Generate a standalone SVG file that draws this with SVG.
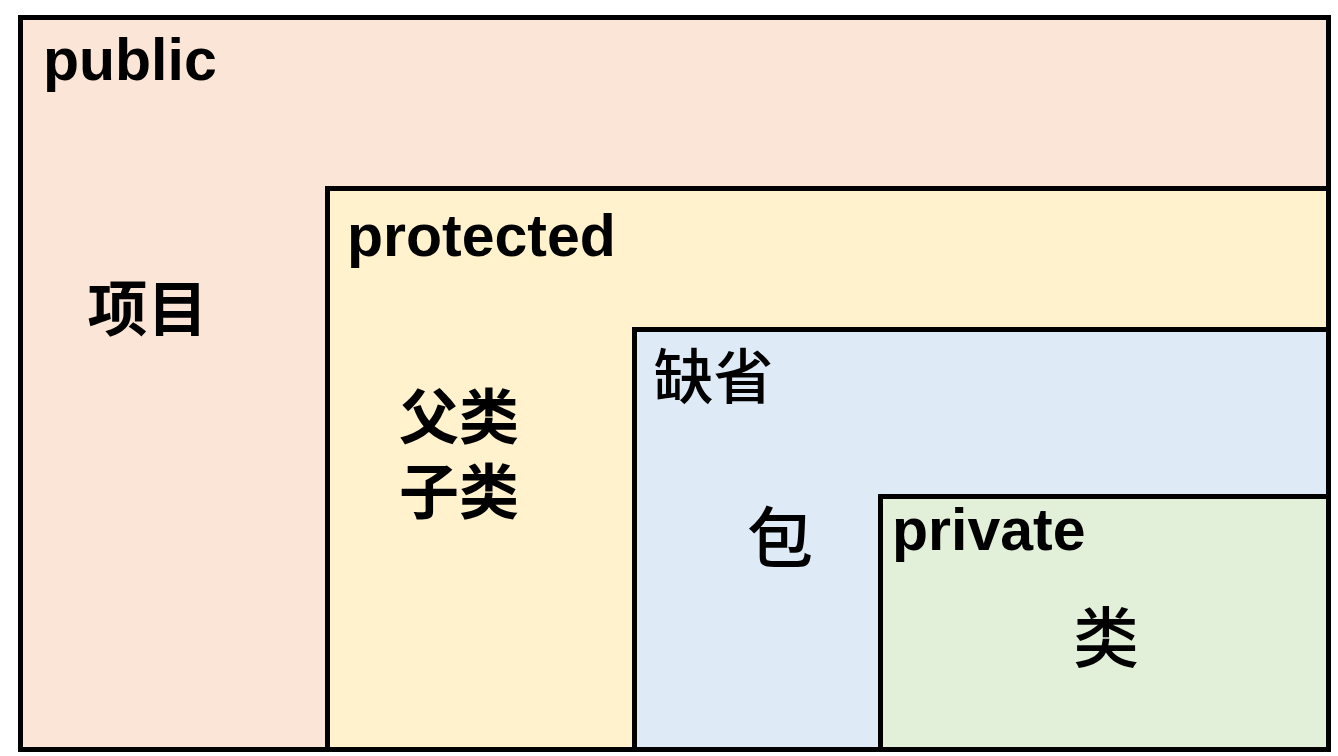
<svg xmlns="http://www.w3.org/2000/svg" width="1338" height="756" viewBox="0 0 1338 756">
<style>
.box{stroke:#000;stroke-width:5}
.en{font-family:"Liberation Sans",Arial,sans-serif;font-weight:bold;font-size:59px;fill:#000}
.cn{font-family:"Noto Sans CJK SC",sans-serif;font-weight:bold;font-size:60px;fill:#000;text-anchor:middle}
.reg{font-weight:500}
</style>
<rect width="1338" height="756" fill="#ffffff"/>
<g id="public">
<rect class="box" x="20.5" y="17.5" width="1308" height="732" fill="#FBE5D6"/>
<text class="en" x="43" y="80">public</text>
<text class="cn" x="147.5" y="331">项目</text>
</g>
<g id="protected">
<rect class="box" x="327.5" y="188.5" width="1001" height="561" fill="#FFF2CC"/>
<text class="en" x="347" y="256">protected</text>
<text class="cn" x="459" y="439">父类</text>
<text class="cn" x="459" y="514">子类</text>
</g>
<g id="default">
<rect class="box" x="634.5" y="329.5" width="694" height="420" fill="#DEEBF7"/>
<text class="cn reg" x="713.5" y="399">缺省</text>
<text class="cn reg" x="780" y="562" style="font-size:66px">包</text>
</g>
<g id="private">
<rect class="box" x="880.5" y="496.5" width="448" height="253" fill="#E2F0D9"/>
<text class="en" x="892" y="550">private</text>
<text class="cn reg" x="1106" y="662" style="font-size:66px">类</text>
</g>
<g id="connectors"></g>
</svg>
